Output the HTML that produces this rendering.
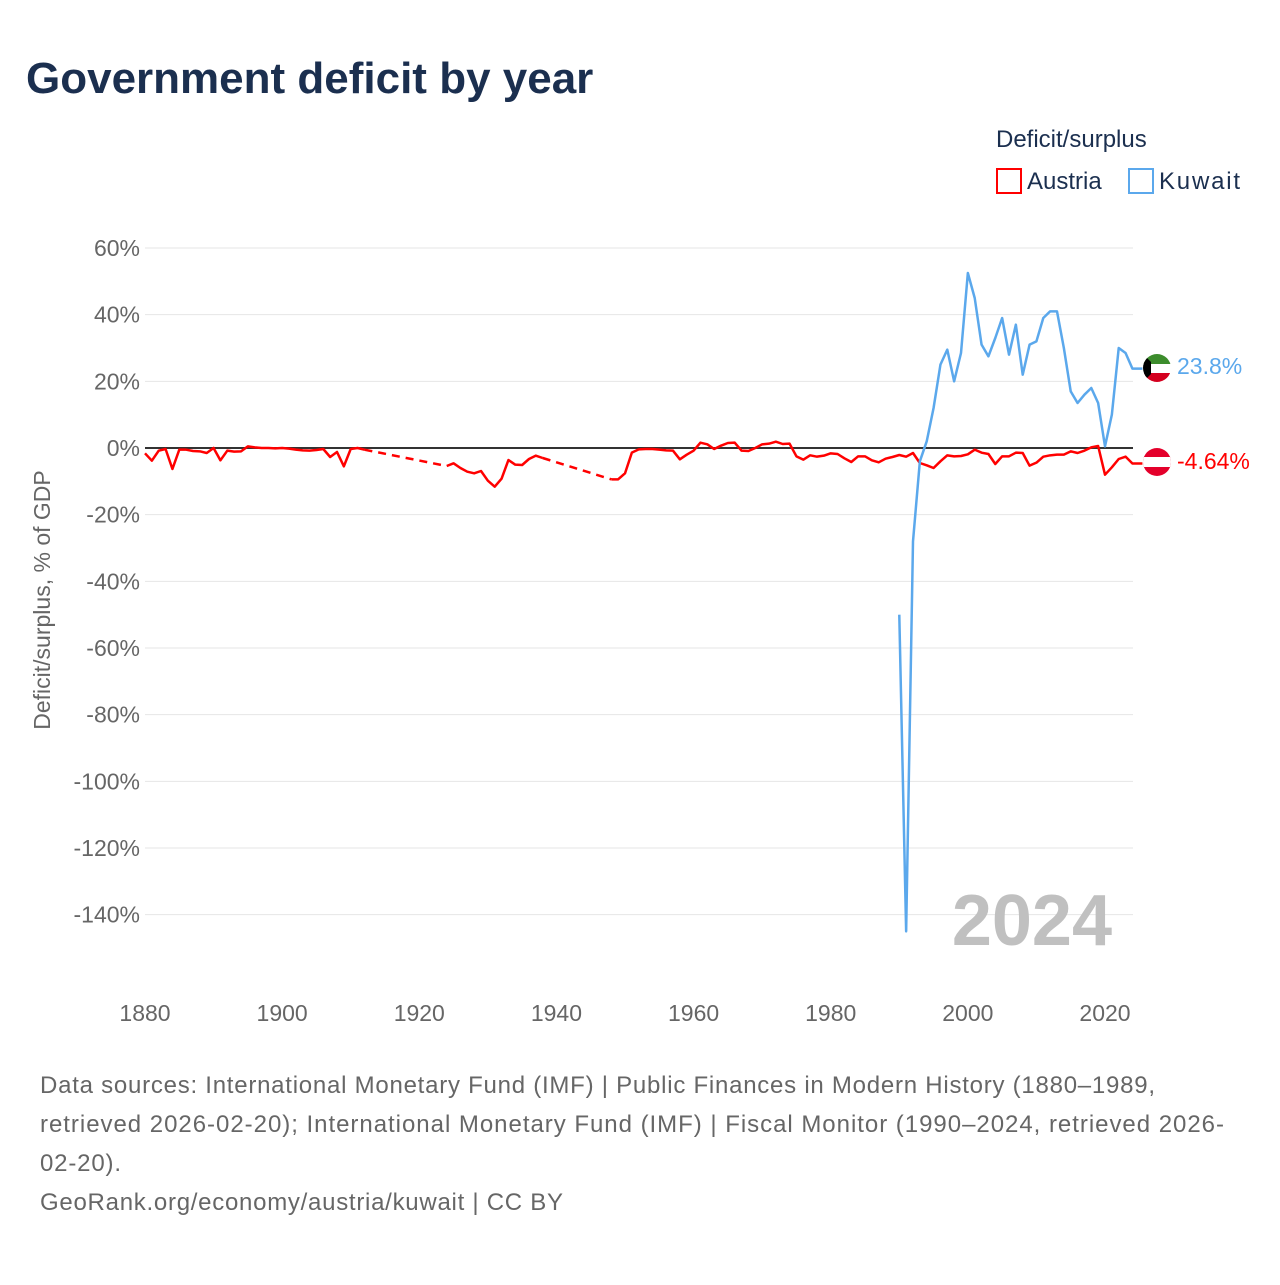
<!DOCTYPE html>
<html><head><meta charset="utf-8"><style>
body{margin:0;background:#fff;width:1280px;height:1280px;overflow:hidden;font-family:"Liberation Sans",sans-serif}
</style></head><body>
<svg width="1280" height="1280" xmlns="http://www.w3.org/2000/svg">
<text x="26" y="93" font-size="44" font-weight="bold" fill="#1b2f4f">Government deficit by year</text>
<text x="996" y="147" font-size="24" fill="#1b2f4f">Deficit/surplus</text>
<g><rect x="997" y="169" width="24" height="24" fill="none" stroke="#f00" stroke-width="2"/><text x="1027" y="189" font-size="24" fill="#1b2f4f">Austria</text></g>
<g><rect x="1129" y="169" width="24" height="24" fill="none" stroke="#5ba8ec" stroke-width="2"/><text x="1159" y="189" font-size="24" fill="#1b2f4f" textLength="81">Kuwait</text></g>
<g id="grid"></g>
<g id="yt"></g>
<g id="xt"></g>
<text transform="translate(50,600) rotate(-90)" text-anchor="middle" font-size="23" fill="#666">Deficit/surplus, % of GDP</text>
<text x="1112" y="945" text-anchor="end" font-size="72" font-weight="bold" fill="#c0c0c0">2024</text>
<g id="series"></g>
<g>
<clipPath id="ck"><circle cx="1157" cy="368" r="14"/></clipPath>
<g clip-path="url(#ck)"><rect x="1143" y="354" width="28" height="10" fill="#3c8c2c"/><rect x="1143" y="364" width="28" height="9" fill="#fff"/><rect x="1143" y="373" width="28" height="10" fill="#d4001f"/><polygon points="1143,354 1151,362 1151,374 1143,382" fill="#000"/></g></g>
<text x="1177" y="374" font-size="23" fill="#5ba8ec">23.8%</text>
<g>
<clipPath id="ca"><circle cx="1157" cy="462" r="14"/></clipPath>
<g clip-path="url(#ca)"><rect x="1143" y="448" width="28" height="28" fill="#e4002b"/><rect x="1143" y="457" width="28" height="10" fill="#fff"/></g></g>
<text x="1177" y="469" font-size="23" fill="#f00">-4.64%</text>
<g font-size="24" fill="#666">
<text x="40" y="1093" textLength="1115">Data sources: International Monetary Fund (IMF) | Public Finances in Modern History (1880–1989,</text>
<text x="40" y="1132" textLength="1184">retrieved 2026-02-20); International Monetary Fund (IMF) | Fiscal Monitor (1990–2024, retrieved 2026-</text>
<text x="40" y="1171" textLength="81">02-20).</text>
<text x="40" y="1210" textLength="523">GeoRank.org/economy/austria/kuwait | CC BY</text>
</g>
</svg>
<script>
const yTicks=[60,40,20,0,-20,-40,-60,-80,-100,-120,-140];
const xTicks=[1880,1900,1920,1940,1960,1980,2000,2020];
const austriaYears=[];for(let y=1880;y<=2024;y++)austriaYears.push(y);
const austria=[-1.6,-3.8,-0.8,-0.3,-6.3,-0.5,-0.5,-0.9,-1,-1.5,0,-3.7,-0.8,-1.1,-1,0.5,0.2,0,0,-0.1,0,-0.2,-0.5,-0.7,-0.8,-0.6,-0.3,-2.7,-1.2,-5.5,-0.3,0,-0.5,
null,null,null,null,null,null,null,null,null,null,null,
-5.4,-4.6,-6,-7.1,-7.6,-6.9,-9.8,-11.6,-9.2,-3.6,-5,-5.1,-3.3,-2.3,-3,
null,null,null,null,null,null,null,null,null,
-9.4,-9.4,-7.6,-1.4,-0.4,-0.3,-0.3,-0.5,-0.7,-0.8,-3.4,-2,-0.8,1.6,1.1,-0.3,0.7,1.5,1.6,-0.8,-0.9,0,1.1,1.3,1.9,1.2,1.3,-2.5,-3.5,-2.2,-2.6,-2.3,-1.6,-1.8,-3.1,-4.2,-2.5,-2.5,-3.7,-4.3,-3.2,-2.7,-2.1,-2.6,-1.5,-4.5,-5.2,-6,-4,-2.2,-2.5,-2.4,-1.9,-0.5,-1.4,-1.8,-4.8,-2.5,-2.5,-1.4,-1.5,-5.3,-4.4,-2.6,-2.2,-2,-2,-1,-1.5,-0.8,0.2,0.6,-8,-5.8,-3.3,-2.6,-4.64];
const kuwaitYears=[];for(let y=1990;y<=2024;y++)kuwaitYears.push(y);
const kuwait=[-50,-145,-28,-4,2,12,25,29.5,20,28.5,52.5,45,31,27.5,33,39,28,37,22,31,32,39,41,41,30,17,13.5,16,18,13.5,0.5,10,30,28.5,23.8];
const NS='http://www.w3.org/2000/svg';
const X=y=>145+(y-1880)*960/140;
const Y=v=>448-v*10/3;
function mk(tag,at,parent){const e=document.createElementNS(NS,tag);for(const k in at)e.setAttribute(k,at[k]);parent.appendChild(e);return e;}
const grid=document.getElementById('grid'),yt=document.getElementById('yt'),xt=document.getElementById('xt'),ser=document.getElementById('series');
yTicks.forEach(t=>{
 if(t!==0){const l=mk('line',{x1:145,x2:1133,y1:Y(t),y2:Y(t),stroke:'#e6e6e6','stroke-width':1},grid);
 
 }
 const tx=mk('text',{x:140,y:Y(t)+8,'text-anchor':'end','font-size':23,fill:'#666'},yt);tx.textContent=t+'%';
 
 
});
xTicks.forEach(t=>{const tx=mk('text',{x:X(t),y:1021,'text-anchor':'middle','font-size':23,fill:'#666'},xt);tx.textContent=t;
 
 });
const zl=mk('line',{x1:145,x2:1133,y1:Y(0),y2:Y(0),stroke:'#333','stroke-width':2},ser);


function draw(years,vals,color,name){
 let seg=[],segs=[];
 years.forEach((yr,i)=>{const v=vals[i];
  if(v===null||v===undefined){if(seg.length){segs.push(seg);seg=[];}return;}
  seg.push([X(yr),Y(v)]);});
 if(seg.length)segs.push(seg);
 segs.forEach((s,i)=>{
  if(i===segs.length-1){const l=s[s.length-1];s.push([l[0]+10,l[1]]);}
  const p=mk('polyline',{points:s.map(q=>q.join(',')).join(' '),fill:'none',stroke:color,'stroke-width':2.5,'stroke-linejoin':'round'},ser);
  
  
  if(i<segs.length-1){const a=s[s.length-1],b=segs[i+1][0];
   const d=mk('line',{x1:a[0],y1:a[1],x2:b[0],y2:b[1],stroke:color,'stroke-width':2.5,'stroke-dasharray':'8,6'},ser);
   
   }
 });
}
draw(austriaYears,austria,'#f00','austria');
draw(kuwaitYears,kuwait,'#5ba8ec','kuwait');
</script>
</body></html>
